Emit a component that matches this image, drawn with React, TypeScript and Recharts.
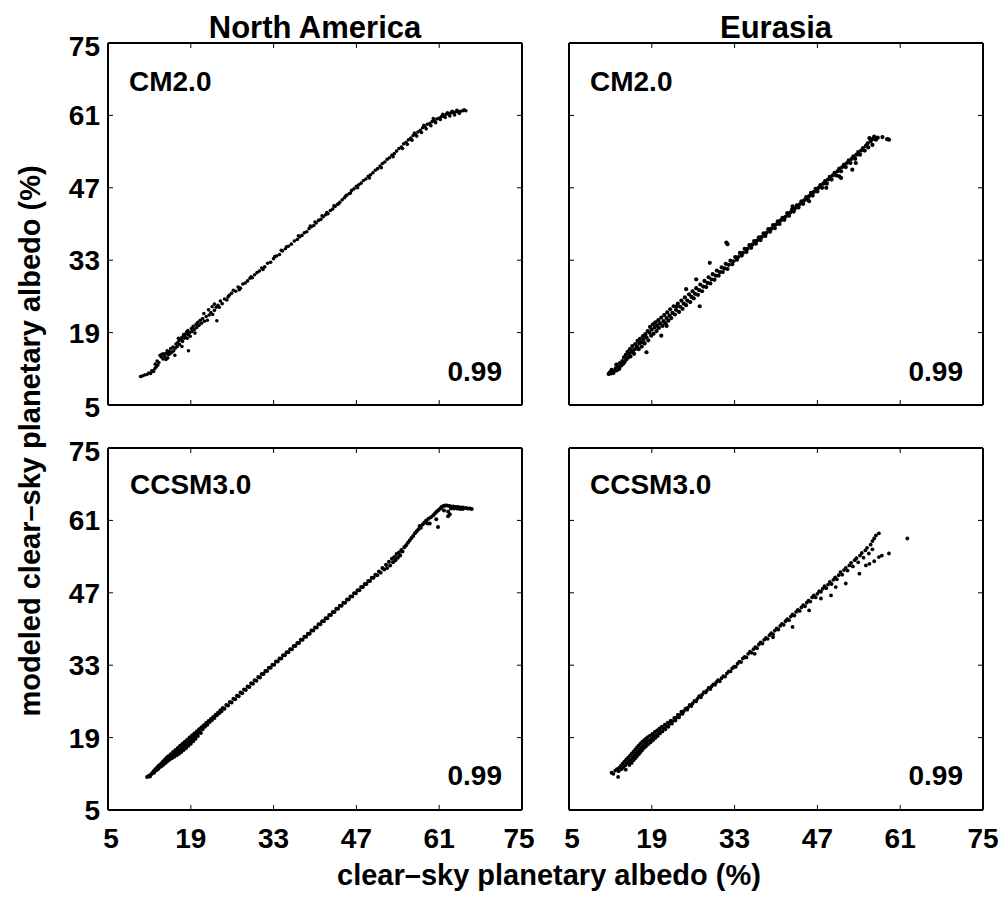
import { ScatterChart, Scatter, XAxis, YAxis } from 'recharts';

// axis ticks shared by every panel (albedo, %)
const ticks = [5, 19, 33, 47, 61, 75];
const regions = ['North America', 'Eurasia'];
const models = ['CM2.0', 'CCSM3.0'];
const correlations = ['0.99', '0.99', '0.99', '0.99'];

const naCm2: [number, number][] = [
  [10.5, 10.5], [10.8, 10.6], [11.2, 10.8], [11.6, 10.9], [11.9, 11.2], [12.2, 11.1], [12.4, 11.6], [12.7, 11.5],
  [12.9, 12.0], [13.1, 12.3], [13.0, 12.9], [13.4, 12.7], [13.3, 13.5], [13.6, 13.2], [13.8, 14.6], [14.0, 14.3],
  [14.1, 14.8], [14.3, 13.9], [14.4, 14.9], [14.6, 14.4], [14.8, 13.8], [14.9, 15.0], [15.0, 15.5], [15.1, 14.1],
  [15.2, 14.7], [15.4, 15.3], [15.5, 14.9], [15.6, 15.9], [15.8, 15.2], [16.0, 16.2], [16.1, 15.5], [16.3, 14.6],
  [16.4, 16.0], [16.5, 16.8], [16.7, 16.3], [16.8, 17.1], [17.0, 17.4], [17.1, 16.7], [16.9, 17.9], [17.3, 17.7],
  [17.5, 16.3], [17.5, 18.1], [17.6, 17.3], [17.8, 18.6], [17.9, 17.9], [18.0, 18.3], [18.2, 18.8], [18.3, 19.1],
  [18.4, 17.9], [18.6, 15.5], [18.6, 18.6], [18.5, 19.4], [18.8, 19.0], [18.9, 18.3], [19.1, 19.8], [19.2, 19.2],
  [19.4, 20.2], [19.6, 19.6], [19.7, 18.9], [19.9, 20.6], [20.0, 20.0], [20.2, 21.0], [20.4, 20.4], [20.6, 21.4],
  [20.8, 20.8], [21.0, 21.7], [21.2, 22.7], [21.3, 21.2], [21.6, 22.1], [21.8, 21.4], [22.0, 23.4], [22.1, 22.4],
  [22.4, 22.9], [22.6, 24.0], [22.7, 22.5], [23.0, 24.5], [23.0, 23.3], [23.4, 21.3], [23.3, 23.9], [23.6, 24.3],
  [23.8, 23.9], [24.0, 25.1], [24.3, 24.6], [24.7, 25.5], [25.1, 25.3], [25.3, 25.9], [25.5, 26.2], [25.9, 26.6],
  [26.2, 27.2], [26.6, 27.0], [27.0, 27.8], [27.2, 27.3], [27.4, 27.6], [27.8, 28.4], [28.2, 28.6], [28.6, 29.0],
  [29.0, 29.5], [29.2, 29.8], [29.4, 29.6], [29.8, 30.2], [30.2, 30.6], [30.6, 30.9], [31.0, 31.5], [31.2, 31.2],
  [31.5, 31.7], [32.0, 32.4], [32.5, 32.6], [33.0, 33.3], [33.2, 33.7], [33.5, 33.8], [34.0, 34.1], [34.3, 34.9],
  [34.5, 34.8], [35.0, 35.2], [35.2, 35.6], [35.5, 35.7], [36.0, 36.1], [36.5, 36.7], [37.0, 37.0], [37.2, 37.7],
  [37.4, 37.5], [37.8, 37.8], [38.2, 38.3], [38.6, 38.5], [39.0, 39.1], [39.2, 39.6], [39.4, 39.5], [39.8, 39.7],
  [40.0, 40.4], [40.2, 40.2], [40.6, 40.7], [41.0, 40.9], [41.2, 41.6], [41.4, 41.4], [41.8, 41.8], [42.0, 42.2],
  [42.2, 42.0], [42.6, 42.6], [43.0, 42.9], [43.2, 43.5], [43.4, 43.4], [43.8, 43.8], [44.0, 43.9], [44.2, 44.2],
  [44.6, 44.7], [45.0, 45.1], [45.2, 45.4], [45.4, 45.6], [45.8, 45.9], [46.0, 46.0], [46.2, 46.5], [46.6, 46.8],
  [47.0, 47.3], [47.2, 47.0], [47.4, 47.6], [47.8, 47.9], [48.2, 48.4], [48.6, 48.7], [49.0, 49.2], [49.2, 48.9],
  [49.4, 49.5], [49.8, 49.9], [50.2, 50.4], [50.6, 50.7], [51.0, 51.2], [51.2, 50.9], [51.4, 51.7], [51.8, 52.0],
  [52.2, 52.5], [52.6, 52.8], [53.0, 53.3], [53.2, 53.0], [53.4, 53.6], [53.8, 54.1], [54.2, 54.6], [54.6, 54.9],
  [54.8, 54.6], [55.0, 55.5], [55.4, 55.8], [55.6, 55.4], [55.8, 56.3], [56.2, 56.6], [56.4, 56.2], [56.6, 57.1],
  [56.8, 57.6], [57.0, 57.3], [57.2, 57.0], [57.4, 57.8], [57.8, 58.1], [58.0, 57.7], [58.2, 58.6], [58.4, 59.1],
  [58.6, 58.8], [58.8, 58.4], [59.0, 59.3], [59.4, 59.4], [59.6, 59.0], [59.8, 59.8], [60.0, 60.4], [60.2, 59.9],
  [60.4, 59.6], [60.6, 60.3], [61.0, 60.5], [61.2, 60.2], [61.4, 60.8], [61.6, 61.2], [61.8, 60.9], [62.0, 60.6],
  [62.2, 61.2], [62.4, 61.5], [62.6, 61.3], [62.8, 60.9], [63.0, 61.5], [63.2, 61.8], [63.4, 61.5], [63.6, 61.1],
  [63.8, 61.7], [64.0, 62.0], [64.2, 61.7], [64.4, 61.4], [64.6, 61.8], [65.0, 61.9], [65.2, 62.1], [65.5, 61.9],
];

const euCm2: [number, number][] = [
  [11.7, 11.0], [11.9, 11.3], [12.1, 11.1], [12.3, 11.5], [12.5, 11.2], [12.2, 11.8], [12.7, 11.6], [12.9, 12.1],
  [13.1, 11.7], [13.3, 12.4], [13.0, 12.8], [13.5, 12.0], [13.6, 13.1], [13.8, 12.6], [14.0, 13.5], [14.1, 12.9],
  [14.3, 14.2], [14.4, 13.3], [14.6, 14.7], [14.7, 13.8], [14.9, 15.3], [15.0, 14.2], [15.2, 14.9], [15.3, 15.8],
  [15.4, 14.4], [15.6, 15.3], [15.7, 16.4], [15.9, 15.6], [16.0, 14.9], [16.2, 16.8], [16.3, 15.9], [16.5, 16.3],
  [16.6, 17.4], [16.8, 15.8], [16.9, 16.9], [17.0, 17.8], [17.2, 17.1], [17.3, 16.3], [17.5, 18.3], [17.6, 17.6],
  [17.8, 16.9], [17.9, 18.7], [18.1, 15.2], [18.1, 18.1], [18.3, 19.3], [18.4, 17.5], [18.6, 19.0], [18.7, 20.1],
  [18.9, 18.4], [19.0, 19.6], [19.2, 20.6], [19.3, 18.8], [19.5, 20.0], [19.6, 21.0], [19.8, 19.3], [19.9, 20.4],
  [20.1, 21.4], [20.2, 19.9], [20.4, 20.8], [20.6, 18.4], [20.6, 21.9], [20.8, 20.3], [21.0, 21.2], [21.1, 22.4],
  [21.3, 20.8], [21.5, 20.3], [21.5, 21.8], [21.6, 22.9], [21.8, 21.3], [22.0, 22.3], [22.1, 23.5], [22.3, 21.8],
  [22.5, 22.8], [22.7, 24.1], [22.9, 22.5], [23.1, 23.4], [23.2, 24.1], [23.4, 24.6], [23.6, 23.0], [23.8, 24.0],
  [24.0, 25.2], [24.2, 23.6], [24.4, 24.6], [24.6, 25.8], [24.8, 27.4], [24.8, 24.3], [25.0, 25.2], [25.3, 26.4],
  [25.5, 24.9], [25.7, 25.9], [25.9, 27.0], [26.1, 25.6], [26.3, 26.5], [26.5, 29.3], [26.5, 27.6], [26.8, 26.3],
  [27.0, 27.2], [27.1, 24.1], [27.2, 28.3], [27.5, 27.0], [27.7, 27.9], [27.9, 29.0], [28.2, 27.8], [28.4, 28.6],
  [28.6, 29.7], [28.8, 32.5], [28.9, 28.5], [29.1, 29.3], [29.3, 30.3], [29.6, 29.2], [29.8, 30.0], [30.0, 31.0],
  [30.3, 30.0], [30.5, 30.7], [30.8, 31.6], [31.0, 30.7], [31.3, 31.4], [31.6, 36.4], [31.8, 36.1], [31.5, 32.3],
  [31.8, 31.3], [32.0, 32.1], [32.3, 32.9], [32.6, 32.2], [32.8, 32.8], [33.1, 33.6], [33.4, 33.1], [33.6, 33.6],
  [33.9, 34.4], [34.2, 33.9], [34.4, 34.4], [34.7, 35.2], [35.0, 34.6], [35.2, 35.2], [35.5, 35.9], [35.8, 35.4],
  [36.0, 36.0], [36.3, 36.7], [36.6, 36.2], [36.8, 36.8], [37.1, 37.4], [37.4, 36.9], [37.6, 37.5], [37.9, 38.2],
  [38.2, 37.7], [38.4, 38.3], [38.7, 39.0], [39.0, 38.5], [39.2, 39.1], [39.5, 39.8], [39.8, 39.2], [40.0, 39.9],
  [40.3, 40.5], [40.6, 40.0], [40.8, 40.7], [41.1, 41.2], [41.4, 40.8], [41.6, 41.4], [41.9, 42.1], [42.2, 41.6],
  [42.4, 42.2], [42.8, 43.4], [42.7, 42.8], [43.0, 42.4], [43.2, 43.0], [43.5, 43.6], [43.8, 43.2], [44.0, 43.8],
  [44.3, 44.4], [44.6, 43.9], [44.8, 44.6], [45.1, 45.2], [45.4, 44.7], [45.6, 44.4], [45.6, 45.4], [45.9, 46.0],
  [46.2, 45.5], [46.4, 46.2], [46.7, 46.8], [47.0, 46.3], [47.2, 47.0], [47.5, 47.5], [47.8, 47.0], [48.0, 47.8],
  [48.3, 48.3], [48.5, 47.0], [48.6, 47.8], [48.8, 48.6], [49.1, 49.1], [49.4, 48.6], [49.6, 49.4], [49.9, 49.9],
  [50.2, 49.4], [50.4, 50.2], [50.7, 49.2], [50.7, 50.7], [51.0, 48.9], [51.0, 50.2], [51.2, 51.0], [51.5, 51.5],
  [51.8, 51.0], [52.0, 51.8], [52.3, 52.3], [52.6, 51.8], [52.9, 50.5], [52.8, 52.6], [53.1, 53.1], [53.4, 52.6],
  [53.5, 51.8], [53.6, 53.4], [53.9, 53.9], [54.2, 53.4], [54.4, 54.2], [54.7, 54.7], [55.0, 54.2], [55.2, 55.1],
  [55.5, 55.6], [55.8, 56.6], [55.6, 54.8], [56.0, 56.0], [56.3, 55.3], [56.3, 56.4], [56.6, 56.9], [56.9, 56.3],
  [57.2, 56.7], [58.0, 56.8], [58.8, 56.4], [59.1, 56.3],
];

const naCcsm3: [number, number][] = [
  [11.6, 11.4], [11.9, 11.6], [12.1, 11.5], [12.3, 11.9], [12.5, 12.1], [12.7, 12.5], [12.8, 12.2], [13.0, 12.9],
  [13.2, 12.7], [13.3, 13.2], [13.5, 13.0], [13.6, 13.6], [13.8, 13.3], [14.0, 14.0], [14.1, 13.5], [14.3, 14.4],
  [14.4, 13.8], [14.6, 14.7], [14.7, 14.1], [14.9, 15.1], [15.0, 14.4], [15.1, 14.8], [15.2, 15.4], [15.4, 14.7],
  [15.5, 15.1], [15.6, 15.8], [15.8, 15.0], [15.9, 15.5], [16.0, 16.2], [16.2, 15.3], [16.3, 15.8], [16.4, 16.6],
  [16.5, 16.1], [16.6, 15.6], [16.8, 17.0], [16.9, 16.4], [17.0, 15.9], [17.2, 17.4], [17.3, 16.8], [17.4, 16.2],
  [17.6, 17.8], [17.7, 17.2], [17.8, 16.6], [18.0, 18.2], [18.1, 17.6], [18.2, 17.0], [18.4, 18.6], [18.5, 18.0],
  [18.6, 17.4], [18.8, 19.0], [18.9, 18.4], [19.0, 17.8], [19.2, 19.4], [19.3, 18.8], [19.4, 18.3], [19.6, 19.8],
  [19.7, 19.2], [19.8, 18.8], [20.0, 20.2], [20.1, 19.7], [20.2, 19.3], [20.4, 20.6], [20.5, 20.1], [20.7, 19.9],
  [20.8, 21.0], [21.0, 20.6], [21.2, 21.4], [21.4, 21.1], [21.6, 21.8], [21.8, 21.5], [22.0, 22.2], [22.2, 22.0],
  [22.4, 22.6], [22.6, 22.4], [22.8, 23.0], [23.0, 22.8], [23.2, 23.4], [23.4, 23.3], [23.6, 23.8], [23.8, 23.7],
  [24.0, 24.3], [24.2, 24.1], [24.4, 24.7], [24.7, 24.6], [25.0, 25.3], [25.3, 25.2], [25.6, 25.9], [25.9, 25.8],
  [26.2, 26.5], [26.5, 26.4], [26.8, 27.1], [27.1, 27.0], [27.4, 27.7], [27.7, 27.6], [28.0, 28.3], [28.3, 28.2],
  [28.6, 28.9], [28.9, 28.8], [29.2, 29.5], [29.5, 29.4], [29.8, 30.1], [30.1, 30.0], [30.4, 30.7], [30.7, 30.6],
  [31.0, 31.3], [31.3, 31.3], [31.6, 31.9], [31.9, 31.9], [32.2, 32.5], [32.5, 32.5], [32.8, 33.1], [33.1, 33.1],
  [33.4, 33.7], [33.7, 33.7], [34.0, 34.3], [34.3, 34.3], [34.6, 34.9], [34.9, 34.9], [35.2, 35.5], [35.5, 35.5],
  [35.8, 36.1], [36.1, 36.1], [36.4, 36.7], [36.7, 36.7], [37.0, 37.3], [37.3, 37.3], [37.6, 37.9], [37.9, 37.9],
  [38.2, 38.5], [38.5, 38.5], [38.8, 39.1], [39.1, 39.1], [39.4, 39.7], [39.7, 39.7], [40.0, 40.3], [40.3, 40.3],
  [40.6, 40.9], [40.9, 40.9], [41.2, 41.5], [41.5, 41.5], [41.8, 42.1], [42.1, 42.1], [42.4, 42.7], [42.7, 42.7],
  [43.0, 43.3], [43.3, 43.3], [43.6, 43.9], [43.9, 43.9], [44.2, 44.5], [44.5, 44.5], [44.8, 45.1], [45.1, 45.1],
  [45.4, 45.7], [45.7, 45.7], [46.0, 46.3], [46.3, 46.3], [46.6, 46.9], [46.9, 46.9], [47.2, 47.5], [47.5, 47.5],
  [47.8, 48.1], [48.1, 48.1], [48.4, 48.7], [48.7, 48.7], [49.0, 49.3], [49.3, 49.3], [49.6, 49.9], [49.9, 49.9],
  [50.2, 50.5], [50.5, 50.4], [50.8, 51.1], [51.1, 50.9], [51.4, 51.8], [51.7, 51.5], [52.0, 52.4], [52.2, 51.8],
  [52.5, 53.0], [52.7, 52.3], [53.0, 53.6], [53.2, 52.9], [53.4, 53.9], [53.6, 53.3], [53.8, 54.5], [54.0, 53.8],
  [54.2, 54.8], [54.4, 54.2], [54.6, 55.3], [54.8, 55.0], [55.1, 55.8], [55.4, 56.2], [55.7, 56.7], [56.0, 57.1],
  [56.3, 57.6], [56.6, 58.0], [56.9, 58.5], [57.2, 58.9], [57.5, 59.3], [57.7, 59.9], [57.9, 59.6], [58.2, 60.2],
  [58.5, 60.6], [58.8, 61.0], [59.0, 60.4], [59.4, 60.4], [59.2, 61.3], [59.6, 61.6], [60.0, 62.0], [60.3, 62.4],
  [60.5, 61.2], [60.8, 59.7], [60.6, 62.7], [60.9, 63.0], [61.2, 63.3], [61.4, 63.6], [61.7, 63.8], [62.0, 63.9],
  [61.8, 62.9], [62.3, 63.9], [62.5, 61.8], [62.5, 62.7], [62.8, 62.2], [62.7, 63.8], [63.0, 63.7], [63.0, 63.3],
  [63.4, 63.7], [63.8, 63.6], [63.5, 63.3], [64.2, 63.6], [64.0, 63.3], [64.6, 63.5], [64.5, 63.2], [65.0, 63.5],
  [65.0, 63.2], [65.5, 63.4], [65.8, 63.3], [66.2, 63.3], [66.5, 63.2],
];

const euCcsm3: [number, number][] = [
  [12.2, 12.2], [12.5, 12.0], [12.8, 12.6], [13.3, 11.4], [13.1, 12.9], [13.5, 13.2], [13.4, 12.5], [13.8, 13.6],
  [13.9, 12.9], [14.1, 14.0], [14.2, 13.3], [14.4, 14.4], [14.5, 13.6], [14.6, 12.8], [14.7, 14.8], [14.8, 14.0],
  [15.0, 15.1], [15.1, 14.3], [15.2, 13.7], [15.3, 15.5], [15.4, 14.7], [15.6, 15.9], [15.6, 14.1], [15.7, 15.1],
  [15.9, 16.3], [15.9, 14.6], [16.0, 15.5], [16.2, 16.7], [16.2, 15.0], [16.3, 15.9], [16.5, 17.1], [16.5, 15.4],
  [16.6, 16.3], [16.8, 17.5], [16.8, 15.8], [16.9, 16.7], [17.1, 17.9], [17.1, 16.2], [17.2, 17.1], [17.4, 18.2],
  [17.4, 16.6], [17.5, 17.4], [17.7, 18.5], [17.7, 17.0], [17.8, 17.8], [18.0, 18.8], [18.0, 17.3], [18.1, 18.1],
  [18.3, 19.1], [18.4, 17.7], [18.5, 18.5], [18.7, 19.4], [18.8, 18.1], [18.9, 18.8], [19.1, 19.7], [19.2, 18.5],
  [19.3, 19.2], [19.5, 20.1], [19.6, 18.9], [19.7, 19.5], [19.9, 20.4], [20.0, 19.3], [20.1, 19.9], [20.3, 20.8],
  [20.4, 19.8], [20.5, 20.3], [20.7, 21.1], [20.8, 20.2], [21.0, 20.8], [21.2, 21.5], [21.3, 20.6], [21.5, 21.2],
  [21.7, 21.9], [21.8, 21.1], [22.0, 21.7], [22.2, 22.3], [22.4, 21.7], [22.5, 22.2], [22.8, 22.8], [23.0, 22.3],
  [23.1, 22.8], [23.4, 23.4], [23.6, 22.9], [23.7, 23.4], [24.0, 24.0], [24.2, 23.6], [24.4, 24.1], [24.7, 24.6],
  [25.0, 24.4], [25.1, 24.8], [25.4, 25.3], [25.7, 25.1], [25.9, 25.6], [26.2, 26.1], [26.5, 26.0], [26.7, 26.5],
  [27.0, 27.0], [27.3, 26.8], [27.5, 27.3], [27.8, 27.8], [28.1, 27.7], [28.3, 28.1], [28.6, 28.6], [28.9, 28.4],
  [29.1, 28.9], [29.4, 29.3], [29.7, 29.2], [29.9, 29.7], [30.2, 30.1], [30.5, 29.9], [30.8, 30.5], [31.1, 30.9],
  [31.4, 30.8], [31.7, 31.4], [32.0, 31.8], [32.3, 31.8], [32.6, 32.4], [32.9, 32.7], [33.2, 32.7], [33.5, 33.3],
  [33.8, 33.7], [34.1, 33.6], [34.4, 34.3], [34.7, 34.6], [35.0, 34.5], [35.3, 35.2], [35.6, 35.6], [35.9, 35.4],
  [36.2, 36.1], [36.4, 35.2], [36.5, 36.5], [36.8, 36.3], [37.1, 37.0], [37.4, 37.4], [37.7, 37.2], [38.0, 37.9],
  [38.3, 38.3], [38.6, 38.1], [38.9, 38.8], [39.2, 39.2], [39.5, 38.4], [39.5, 39.0], [39.8, 39.7], [40.1, 40.1],
  [40.4, 39.9], [40.7, 40.6], [41.0, 41.0], [41.3, 40.8], [41.6, 41.5], [41.9, 41.9], [42.2, 41.7], [42.5, 42.4],
  [42.8, 40.4], [42.8, 42.8], [43.1, 42.6], [43.4, 43.3], [43.7, 43.7], [44.0, 43.5], [44.3, 44.2], [44.6, 44.6],
  [44.9, 44.4], [45.2, 45.1], [45.6, 43.6], [45.5, 45.5], [45.8, 45.3], [46.1, 46.1], [46.4, 46.5], [46.7, 46.1],
  [47.0, 46.8], [47.3, 47.3], [47.6, 45.9], [47.6, 47.2], [47.9, 47.8], [48.2, 48.3], [48.5, 47.9], [48.8, 48.6],
  [49.1, 49.1], [49.3, 46.5], [49.4, 48.7], [49.7, 49.5], [50.0, 50.0], [50.1, 48.1], [50.3, 49.6], [50.6, 50.4],
  [50.9, 51.0], [51.2, 50.5], [51.5, 51.4], [51.8, 48.8], [51.8, 51.8], [52.1, 51.3], [52.4, 52.3], [52.7, 52.8],
  [53.0, 52.1], [53.3, 53.3], [53.6, 53.7], [53.9, 52.9], [54.1, 50.7], [54.2, 54.2], [54.5, 54.7], [54.8, 53.8],
  [55.1, 55.2], [55.2, 52.3], [55.4, 55.7], [55.7, 54.6], [55.8, 52.6], [56.0, 56.3], [56.3, 57.0], [56.3, 55.4],
  [56.6, 53.1], [56.6, 57.5], [56.9, 58.1], [57.4, 58.5], [57.4, 53.9], [57.9, 54.2], [59.1, 54.6], [62.2, 57.5],
];

const panelData = [naCm2, euCm2, naCcsm3, euCcsm3];
// marker radius per panel (Eurasia CM2.0 markers print a little heavier)
const dotRadius = [1.8, 2.1, 2.0, 1.9];

const FONT = '"Liberation Sans", Arial, Helvetica, sans-serif';
const PLOT_W = 414;
const PLOT_H = 362;
const LEFT_AXIS = 70;
const BOTTOM_AXIS = 60;
const MARGIN = { top: 20, right: 24, bottom: 0, left: 0 };
const COL_X = [108, 569];
const ROW_Y = [43, 448];

const Empty = () => <g />;

const labelStyle = { fontSize: 28, fontWeight: 'bold' as const, fontFamily: FONT, fill: '#000' };

function Panel({ idx }: { idx: number }) {
  const row = Math.floor(idx / 2);
  const col = idx % 2;
  const showX = row === 1;
  const showY = col === 0;
  const pts = panelData[idx].map(([x, y]) => ({ x, y }));
  const r = dotRadius[idx];
  const width = MARGIN.left + LEFT_AXIS + PLOT_W + 1 + MARGIN.right;
  const height = MARGIN.top + 1 + PLOT_H + BOTTOM_AXIS + MARGIN.bottom;

  const dot = (p: any) => <circle cx={p.cx} cy={p.cy} r={r} fill="#000" />;

  const xTick = (p: any) => {
    if (!showX) return <g />;
    const v = p.payload.value;
    const dx = v === 5 ? 3 : v === 75 && col === 0 ? -3 : 0;
    return (
      <text x={p.x + dx} y={p.y + 43} textAnchor="middle" {...labelStyle}>
        {v}
      </text>
    );
  };
  const yTick = (p: any) => {
    if (!showY) return <g />;
    const v = p.payload.value;
    const dy = v === 75 ? 3 : v === 5 && row === 0 ? 2 : 0;
    return (
      <text x={p.x - 13} y={p.y + 10 + dy} textAnchor="end" {...labelStyle}>
        {v}
      </text>
    );
  };

  const axisLine = { stroke: '#000', strokeWidth: 2 };
  const tickLine = { stroke: '#000', strokeWidth: 1 };

  return (
    <div
      style={{
        position: 'absolute',
        left: COL_X[col] - LEFT_AXIS - MARGIN.left,
        top: ROW_Y[row] - 1 - MARGIN.top,
      }}
    >
      <ScatterChart width={width} height={height} margin={MARGIN}>
        <XAxis xAxisId="b" type="number" dataKey="x" orientation="bottom" domain={[5, 75]} ticks={ticks}
          interval={0} allowDataOverflow height={BOTTOM_AXIS} tickSize={-5} tickMargin={0}
          axisLine={axisLine} tickLine={tickLine} tick={xTick} />
        <XAxis xAxisId="t" type="number" dataKey="x" orientation="top" domain={[5, 75]} ticks={ticks}
          interval={0} allowDataOverflow height={1} tickSize={-5} tickMargin={0}
          axisLine={axisLine} tickLine={tickLine} tick={Empty} />
        <YAxis yAxisId="l" type="number" dataKey="y" orientation="left" domain={[5, 75]} ticks={ticks}
          interval={0} allowDataOverflow width={LEFT_AXIS} tickSize={-5} tickMargin={0}
          axisLine={axisLine} tickLine={tickLine} tick={yTick} />
        <YAxis yAxisId="r" type="number" dataKey="y" orientation="right" domain={[5, 75]} ticks={ticks}
          interval={0} allowDataOverflow width={1} tickSize={-5} tickMargin={0}
          axisLine={axisLine} tickLine={tickLine} tick={Empty} />
        <Scatter data={pts} xAxisId="b" yAxisId="l" shape={dot} isAnimationActive={false} />
        <Scatter data={pts} xAxisId="t" yAxisId="r" shape={Empty} isAnimationActive={false} />
      </ScatterChart>
    </div>
  );
}

export default function App() {
  return (
    <div style={{ position: 'absolute', left: 0, top: 0, width: 1008, height: 907, background: '#fff' }}>
      {[0, 1, 2, 3].map((i) => (
        <Panel key={i} idx={i} />
      ))}
      <svg width={1008} height={907} style={{ position: 'absolute', left: 0, top: 0, pointerEvents: 'none' }}>
        <g fontFamily={FONT} fontWeight="bold" fill="#000">
          <text x={315} y={38} fontSize={31} textAnchor="middle">{regions[0]}</text>
          <text x={776} y={38} fontSize={31} textAnchor="middle">{regions[1]}</text>
          <text x={129} y={91} fontSize={28}>{models[0]}</text>
          <text x={590} y={91} fontSize={28}>{models[0]}</text>
          <text x={130} y={494} fontSize={28}>{models[1]}</text>
          <text x={590} y={494} fontSize={28}>{models[1]}</text>
          <text x={502} y={381} fontSize={28} textAnchor="end">{correlations[0]}</text>
          <text x={963} y={381} fontSize={28} textAnchor="end">{correlations[1]}</text>
          <text x={502} y={785} fontSize={28} textAnchor="end">{correlations[2]}</text>
          <text x={963} y={785} fontSize={28} textAnchor="end">{correlations[3]}</text>
          <text x={549} y={885} fontSize={29} textAnchor="middle">clear–sky planetary albedo (%)</text>
          <text x={40} y={441} fontSize={29} textAnchor="middle" transform="rotate(-90, 40, 441)">
            modeled clear–sky planetary albedo (%)
          </text>
        </g>
      </svg>
    </div>
  );
}
